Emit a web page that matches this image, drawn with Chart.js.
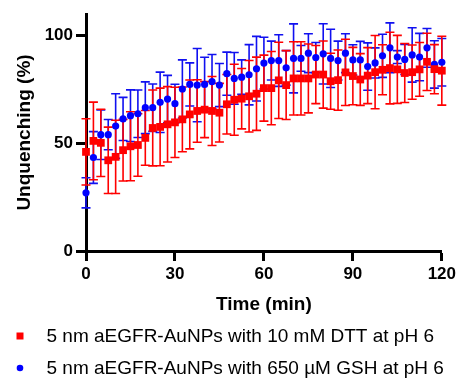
<!DOCTYPE html>
<html>
<head>
<meta charset="utf-8">
<script src="https://cdn.jsdelivr.net/npm/chart.js@4.4.0/dist/chart.umd.min.js"></script>
<style>
  html, body { margin: 0; padding: 0; background: #fff; }
  #wrap { width: 459px; height: 378px; position: relative; }
</style>
</head>
<body>
<div id="wrap"><canvas id="unquenchChart" width="459" height="378"></canvas></div>
<script>
// time points (min)
var times = [0, 2.5, 5, 7.5, 10, 12.5, 15, 17.5, 20, 22.5, 25, 27.5, 30, 32.5, 35, 37.5, 40, 42.5, 45, 47.5,
    50, 52.5, 55, 57.5, 60, 62.5, 65, 67.5, 70, 72.5, 75, 77.5, 80, 82.5, 85, 87.5, 90, 92.5, 95, 97.5,
    100, 102.5, 105, 107.5, 110, 112.5, 115, 117.5, 120];

// 10 mM DTT
var dttMean = [46.0, 51.1, 50.2, 42.1, 43.7, 46.8, 48.6, 49.2, 52.5, 57.1, 57.6, 58.8, 59.7, 61.1, 63.4, 65.0,
    65.6, 65.0, 64.2, 68.1, 70.2, 70.7, 71.8, 73.0, 75.6, 75.6, 79.2, 77.0, 80.1, 80.1, 80.1, 81.9, 81.9,
    78.8, 79.3, 82.9, 81.2, 79.6, 81.4, 83.0, 84.1, 84.9, 84.3, 82.6, 83.0, 84.3, 87.8, 84.4, 83.7];
var dttErr = [15.4, 18, 15.6, 15.4, 17, 14.3, 16, 14.5, 12.7, 17.6, 18, 17.5, 16.3, 15, 16, 14.5, 13, 16,
    13.6, 13.8, 16.5, 14, 16.6, 17, 15.3, 17, 17.7, 16, 17, 17, 16, 13.5, 15.6, 13, 14, 15.4, 13.3, 12, 13,
    17, 11.6, 16.6, 15.8, 13.7, 12.6, 12.5, 13.3, 11.4, 16];

// 650 uM GSH
var gshMean = [27.0, 43.4, 54.0, 54.0, 58.0, 61.3, 62.8, 63.7, 66.5, 66.5, 69.0, 70.5, 68.4, 75.2, 77.3, 77.0,
    77.3, 78.6, 77.0, 82.3, 80.1, 80.7, 81.8, 84.6, 87.2, 88.4, 88.4, 85.0, 89.4, 89.4, 91.8, 89.8, 91.5,
    89.4, 88.4, 91.8, 88.7, 88.7, 85.6, 87.3, 90.6, 94.3, 90.0, 88.9, 91.0, 90.0, 94.3, 86.6, 87.6];
var gshErr = [7, 12, 11.5, 7, 15, 10, 12, 11, 12, 11, 14, 11, 9, 13.5, 10, 17, 12.6, 12.6, 10, 10, 12, 8, 14,
    15, 12, 9, 12, 8, 16, 6, 9, 7, 14, 13.5, 9, 9, 7, 8.6, 11, 7, 10, 11.6, 3, 7, 12.6, 11, 9, 11, 11];

var xTicks = [0, 30, 60, 90, 120];
var yTicks = [0, 50, 100];

var seriesLabels = ['5 nm aEGFR-AuNPs with 10 mM DTT at pH 6', '5 nm aEGFR-AuNPs with 650 \u00B5M GSH at pH 6'];

var fontFamily = "Arial, 'Liberation Sans', Helvetica, sans-serif";

function toPoints(means, errs) {
    return times.map(function(t, i) { return { x: t, y: means[i], err: errs[i] }; });
}

// vertical error bars with caps, drawn under the markers
var errorBars = {
    id: 'errorBars',
    beforeDatasetsDraw: function(chart) {
        var ctx = chart.ctx;
        var xs = chart.scales.x, ys = chart.scales.y;
        ctx.save();
        for (var d = chart.data.datasets.length - 1; d >= 0; d--) {
            var ds = chart.data.datasets[d];
            ctx.strokeStyle = ds.errorColor;
            ctx.lineWidth = 1.6;
            ds.data.forEach(function(p) {
                var px = xs.getPixelForValue(p.x);
                var top = ys.getPixelForValue(p.y + p.err);
                var bot = ys.getPixelForValue(p.y - p.err);
                ctx.beginPath();
                ctx.moveTo(px, top); ctx.lineTo(px, bot);
                ctx.moveTo(px - 4.5, top); ctx.lineTo(px + 4.5, top);
                ctx.moveTo(px - 4.5, bot); ctx.lineTo(px + 4.5, bot);
                ctx.stroke();
            });
        }
        ctx.restore();
    }
};

// legend stacked under the axis, marker then text
var stackedLegend = {
    id: 'stackedLegend',
    afterDraw: function(chart) {
        var ctx = chart.ctx;
        var rowsY = [336, 368];
        ctx.save();
        ctx.font = '19px ' + fontFamily;
        ctx.textBaseline = 'middle';
        chart.data.datasets.forEach(function(ds, i) {
            var y = rowsY[i];
            ctx.fillStyle = ds.backgroundColor;
            ctx.beginPath();
            if (ds.pointStyle === 'rect') {
                ctx.rect(16.5, y - 3.5, 7, 7);
            } else {
                ctx.arc(20, y, 3.3, 0, Math.PI * 2);
            }
            ctx.fill();
            ctx.fillStyle = '#000';
            ctx.fillText(ds.label, 46.5, y + 1);
        });
        ctx.restore();
    }
};

var ctx = document.getElementById('unquenchChart').getContext('2d');
var unquenchChart = new Chart(ctx, {
    type: 'scatter',
    data: {
        datasets: [{
            label: seriesLabels[0],
            data: toPoints(dttMean, dttErr),
            pointStyle: 'rect',
            pointRadius: 5.5,
            backgroundColor: '#FF0000',
            borderColor: '#FF0000',
            borderWidth: 0,
            errorColor: '#FF0000',
            clip: false
        }, {
            label: seriesLabels[1],
            data: toPoints(gshMean, gshErr),
            pointStyle: 'circle',
            pointRadius: 3.6,
            backgroundColor: '#0000FF',
            borderColor: '#0000FF',
            borderWidth: 0,
            errorColor: '#1010F0',
            clip: false
        }]
    },
    options: {
        responsive: false,
        animation: false,
        devicePixelRatio: 1,
        layout: { padding: { left: 0, right: 17, top: 14, bottom: 62 } },
        plugins: {
            legend: { display: false },
            tooltip: { enabled: false }
        },
        scales: {
            x: {
                type: 'linear',
                min: 0,
                max: 120,
                afterBuildTicks: function(scale) {
                    scale.ticks = xTicks.map(function(v) { return { value: v }; });
                },
                afterFit: function(scale) { scale.height = 65; },
                grid: { drawOnChartArea: false, drawTicks: true, tickLength: 10, tickWidth: 3, tickColor: '#000' },
                border: { display: true, color: '#000', width: 3 },
                ticks: { color: '#000', padding: 3, maxRotation: 0, font: { family: fontFamily, size: 17, weight: 'bold' } },
                title: {
                    display: true,
                    text: 'Time (min)',
                    color: '#000',
                    padding: { top: 0, bottom: 0 },
                    font: { family: fontFamily, size: 19, weight: 'bold' }
                }
            },
            y: {
                type: 'linear',
                min: 0,
                max: 110,
                afterBuildTicks: function(scale) {
                    scale.ticks = yTicks.map(function(v) { return { value: v }; });
                },
                afterFit: function(scale) { scale.width = 86; },
                grid: { drawOnChartArea: false, drawTicks: true, tickLength: 10, tickWidth: 3, tickColor: '#000' },
                border: { display: true, color: '#000', width: 3 },
                ticks: { color: '#000', padding: 3, font: { family: fontFamily, size: 17, weight: 'bold' } },
                title: {
                    display: true,
                    text: 'Unquenching (%)',
                    color: '#000',
                    padding: { top: 13.6, bottom: 0 },
                    font: { family: fontFamily, size: 19, weight: 'bold' }
                }
            }
        }
    },
    plugins: [errorBars, stackedLegend]
});
</script>
</body>
</html>
